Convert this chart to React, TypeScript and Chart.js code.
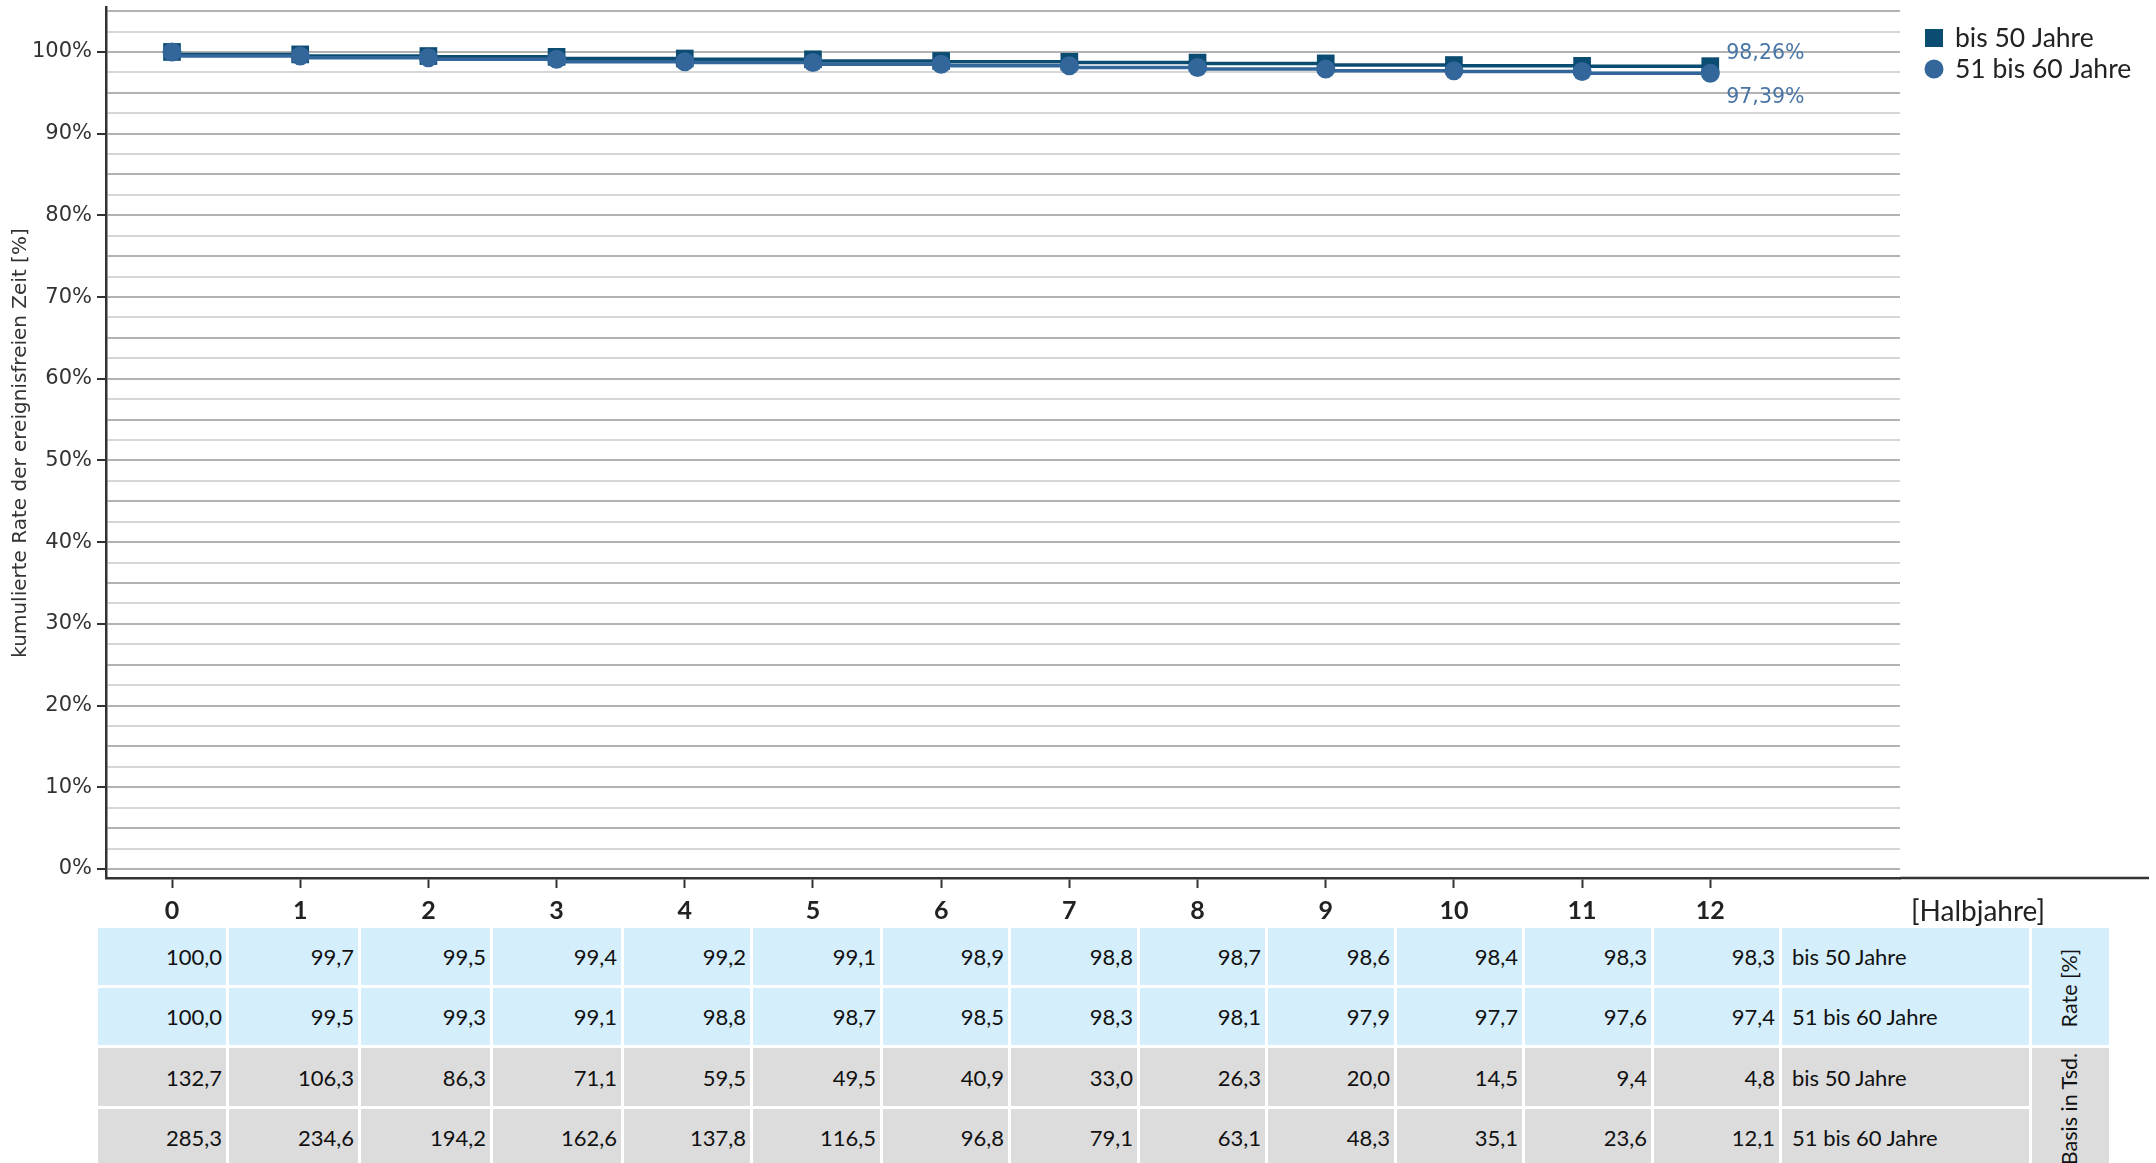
import React, { useEffect, useRef } from 'react';
import { Chart, registerables } from 'chart.js';

Chart.register(...registerables);

// ---------- data ----------
const halfYears = [0, 1, 2, 3, 4, 5, 6, 7, 8, 9, 10, 11, 12];
const seriesNames = ['bis 50 Jahre', '51 bis 60 Jahre'];
const rateBis50 = [100.0, 99.7, 99.5, 99.4, 99.2, 99.1, 98.9, 98.8, 98.7, 98.6, 98.4, 98.3, 98.26];
const rate51bis60 = [100.0, 99.5, 99.3, 99.1, 98.8, 98.7, 98.5, 98.3, 98.1, 97.9, 97.7, 97.6, 97.39];
const basisBis50 = [132.7, 106.3, 86.3, 71.1, 59.5, 49.5, 40.9, 33.0, 26.3, 20.0, 14.5, 9.4, 4.8];
const basis51bis60 = [285.3, 234.6, 194.2, 162.6, 137.8, 116.5, 96.8, 79.1, 63.1, 48.3, 35.1, 23.6, 12.1];
const endLabels = ['98,26%', '97,39%'];
const yLabelStep = 10;
const yGridStep = 2.5;
const yGridMax = 105;
const yTitle = 'kumulierte Rate der ereignisfreien Zeit [%]';
const xUnit = '[Halbjahre]';
const rowGroupRate = 'Rate [%]';
const rowGroupBasis = 'Basis in Tsd.';

// ---------- styles ----------
const W = 2156;
const H = 1163;
const CANVAS_H = 928;
const C1 = '#0b4c72';
const C2 = '#33679b';
const AXIS = '#333333';
const LABEL_BLUE = '#4a76a6';
const colBorders = [98, 229, 361, 493, 624, 753, 883, 1011, 1140, 1268, 1397, 1525, 1654, 1782, 2032, 2109];
const rowTops = [928, 988, 1048, 1109, 1169];
const BLUE_CELL = '#d4eefc';
const GRAY_CELL = '#dcdcdc';
const TABLE_FONT = 22;

const fmt = (v: number) => v.toFixed(1).replace('.', ',');

const overlayPlugin = {
  id: 'overlay',
  afterDraw(chart: any) {
    const { ctx, chartArea, scales } = chart;
    const xs = scales.x;
    const ys = scales.y;
    ctx.save();
    // extend x axis line
    ctx.strokeStyle = AXIS;
    ctx.lineWidth = 2.5;
    ctx.beginPath();
    ctx.moveTo(chartArea.right, chartArea.bottom);
    ctx.lineTo(2149, chartArea.bottom);
    ctx.stroke();

    // x unit label
    ctx.fillStyle = '#222';
    ctx.font = '28px Lato';
    ctx.textAlign = 'center';
    ctx.textBaseline = 'middle';
    ctx.fillText(xUnit, 1978, 912);

    // end-of-line labels
    ctx.fillStyle = LABEL_BLUE;
    ctx.font = '20.5px "DejaVu Sans"';
    ctx.textAlign = 'left';
    const lastIdx = halfYears.length - 1;
    const lx = xs.getPixelForValue(halfYears[lastIdx]) + 16;
    ctx.fillText(endLabels[0], lx, ys.getPixelForValue(rateBis50[lastIdx]) - 12);
    ctx.fillText(endLabels[1], lx, ys.getPixelForValue(rate51bis60[lastIdx]) + 24);

    // legend
    ctx.fillStyle = C1;
    ctx.fillRect(1925, 29, 18, 18);
    ctx.fillStyle = C2;
    ctx.beginPath();
    ctx.arc(1934, 69, 9.5, 0, Math.PI * 2);
    ctx.fill();
    ctx.fillStyle = '#222';
    ctx.font = '26.5px Lato';
    ctx.textAlign = 'left';
    ctx.fillText(seriesNames[0], 1955, 38);
    ctx.fillText(seriesNames[1], 1955, 69);

    // y title
    ctx.translate(21, 443);
    ctx.rotate(-Math.PI / 2);
    ctx.fillStyle = '#333';
    ctx.font = '20px "DejaVu Sans"';
    ctx.textAlign = 'center';
    ctx.fillText(yTitle, 0, 0);
    ctx.restore();
  },
};

function ChartCanvas() {
  const ref = useRef<HTMLCanvasElement>(null);
  useEffect(() => {
    const canvas = ref.current!;
    const chart = new Chart(canvas, {
      type: 'line',
      data: {
        datasets: [
          {
            label: seriesNames[0],
            data: halfYears.map((x, i) => ({ x, y: rateBis50[i] })),
            borderColor: C1,
            backgroundColor: C1,
            borderWidth: 3.5,
            pointStyle: 'rect',
            pointRadius: 12.5,
            pointBorderWidth: 0,
            stepped: 'after',
            order: 2,
          },
          {
            label: seriesNames[1],
            data: halfYears.map((x, i) => ({ x, y: rate51bis60[i] })),
            borderColor: C2,
            backgroundColor: C2,
            borderWidth: 3.5,
            pointStyle: 'circle',
            pointRadius: 9.5,
            pointBorderWidth: 0,
            stepped: 'after',
            order: 1,
          },
        ],
      },
      options: {
        responsive: false,
        animation: false,
        devicePixelRatio: 1,
        layout: { autoPadding: false, padding: { left: 0, top: 7, right: W - 1900, bottom: 0 } },
        plugins: { legend: { display: false }, tooltip: { enabled: false } },
        scales: {
          x: {
            type: 'linear',
            min: -0.515,
            max: 13.48,
            afterBuildTicks: (s: any) => {
              s.ticks = halfYears.map((v) => ({ value: v }));
            },
            afterFit: (s: any) => {
              s.height = CANVAS_H - 878;
              s.paddingLeft = 0;
              s.paddingRight = 0;
            },
            grid: {
              display: true,
              drawOnChartArea: false,
              drawTicks: true,
              tickLength: 10,
              tickColor: AXIS,
              tickWidth: 2,
            },
            border: { display: true, color: AXIS, width: 2.5 },
            ticks: {
              autoSkip: false,
              maxRotation: 0,
              padding: 8,
              color: '#222',
              font: { family: 'Lato', size: 25, weight: 'bold' },
              callback: (v: any) => String(v),
            },
          },
          y: {
            type: 'linear',
            min: -1.1,
            max: 105.5,
            afterBuildTicks: (s: any) => {
              const t: any[] = [];
              for (let v = 0; v <= yGridMax + 0.001; v += yGridStep) t.push({ value: v });
              s.ticks = t;
            },
            afterFit: (s: any) => {
              s.width = 106;
              s.paddingTop = 0;
              s.paddingBottom = 0;
            },
            grid: {
              display: true,
              drawOnChartArea: true,
              drawTicks: true,
              tickLength: 9,
              lineWidth: 2,
              color: (c: any) => (c.tick && Math.abs(c.tick.value % 5) < 0.01 ? '#b3b3b3' : '#d6d6d6'),
              tickColor: (c: any) =>
                c.tick && Math.abs(c.tick.value % yLabelStep) < 0.01 ? AXIS : 'rgba(0,0,0,0)',
              tickWidth: 2,
            },
            border: { display: true, color: AXIS, width: 2.5 },
            ticks: {
              autoSkip: false,
              padding: 5,
              color: '#333',
              font: { family: 'DejaVu Sans', size: 21 },
              callback: (v: any) => (Math.abs(Number(v) % yLabelStep) < 0.01 && Number(v) <= 100 ? `${v}%` : ''),
            },
          },
        },
      },
      plugins: [overlayPlugin],
    } as any);
    return () => chart.destroy();
  }, []);
  return <canvas ref={ref} width={W} height={CANVAS_H} style={{ position: 'absolute', left: 0, top: 0, width: W, height: CANVAS_H }} />;
}

function Cell(props: { col: number; row: number; text: string; bg: string; align: 'left' | 'right' }) {
  const { col, row, text, bg, align } = props;
  const left = colBorders[col];
  const width = colBorders[col + 1] - left - 3;
  const top = rowTops[row];
  const height = rowTops[row + 1] - top - 3;
  return (
    <div
      style={{
        position: 'absolute',
        left,
        top,
        width,
        height,
        background: bg,
        display: 'flex',
        alignItems: 'center',
        justifyContent: align === 'right' ? 'flex-end' : 'flex-start',
        paddingRight: align === 'right' ? 4 : 0,
        paddingLeft: align === 'left' ? 10 : 0,
        boxSizing: 'border-box',
        fontFamily: 'Lato',
        fontSize: TABLE_FONT,
        color: '#111',
        whiteSpace: 'nowrap',
      }}
    >
      {text}
    </div>
  );
}

function DataTable() {
  const rows = [
    { values: rateBis50, name: seriesNames[0], bg: BLUE_CELL },
    { values: rate51bis60, name: seriesNames[1], bg: BLUE_CELL },
    { values: basisBis50, name: seriesNames[0], bg: GRAY_CELL },
    { values: basis51bis60, name: seriesNames[1], bg: GRAY_CELL },
  ];
  const cells: React.ReactNode[] = [];
  rows.forEach((r, ri) => {
    r.values.forEach((v, ci) => {
      cells.push(<Cell key={`${ri}-${ci}`} col={ci} row={ri} text={fmt(v)} bg={r.bg} align="right" />);
    });
    cells.push(<Cell key={`${ri}-n`} col={halfYears.length} row={ri} text={r.name} bg={r.bg} align="left" />);
  });
  const sideLeft = colBorders[colBorders.length - 2];
  const sideW = colBorders[colBorders.length - 1] - sideLeft;
  const rot = (text: string, top: number, height: number, bg: string, cy: number) => (
    <div style={{ position: 'absolute', left: sideLeft, top, width: sideW, height, background: bg, overflow: 'hidden' }}>
      <div
        style={{
          position: 'absolute',
          left: sideW / 2 - 2,
          top: cy - top,
          transform: 'translate(-50%, -50%) rotate(-90deg)',
          fontFamily: 'Lato',
          fontSize: 21.5,
          color: '#111',
          whiteSpace: 'nowrap',
        }}
      >
        {text}
      </div>
    </div>
  );
  return (
    <>
      {cells}
      {rot(rowGroupRate, rowTops[0], rowTops[2] - rowTops[0] - 3, BLUE_CELL, 988)}
      {rot(rowGroupBasis, rowTops[2], 200, GRAY_CELL, 1109)}
    </>
  );
}

export default function App() {
  return (
    <div style={{ position: 'absolute', left: 0, top: 0, width: W, height: H, overflow: 'hidden', background: '#fff' }}>
      <ChartCanvas />
      <DataTable />
    </div>
  );
}
